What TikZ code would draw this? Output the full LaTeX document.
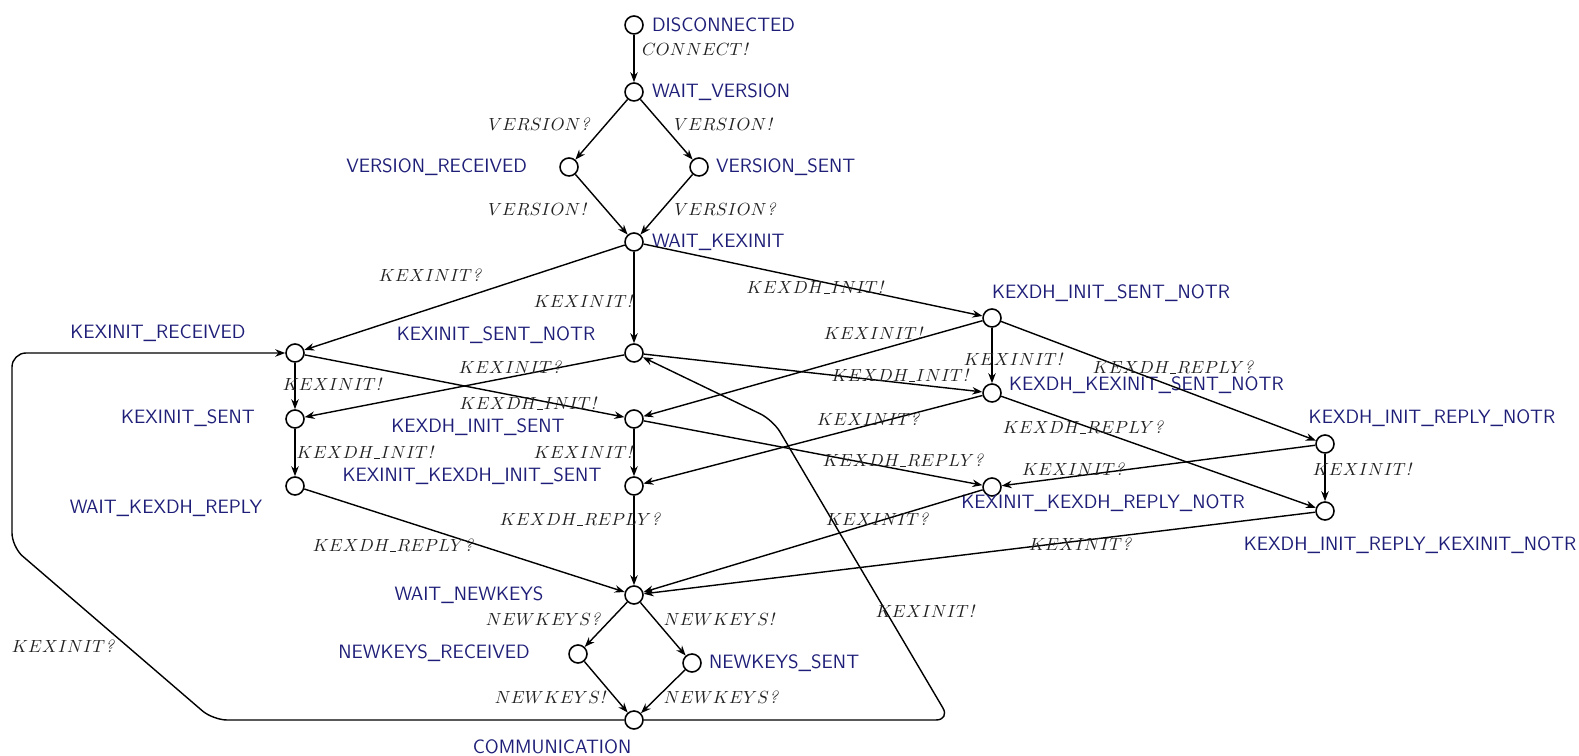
\documentclass[tikz,border=0pt]{standalone}
\usepackage{tikz}
\usetikzlibrary{arrows.meta}
\definecolor{locblue}{HTML}{1E1E78}
\definecolor{actgray}{HTML}{222222}
\newcommand{\usc}{\mbox{\kern.03em\rule{.34em}{.04em}\kern.03em}}
\newcommand{\qm}{\mbox{\itshape ?}}
\newcommand{\xm}{\mbox{\itshape !}}

\begin{document}
\begin{tikzpicture}[
    x=0.02cm, y=-0.02cm,
    st/.style={draw, circle, minimum size=0.36cm, inner sep=0pt, line width=0.9pt, fill=white},
    ar/.style={-{Stealth[length=2mm, width=1.5mm]}, line width=0.8pt},
    loc/.style={font=\sffamily\fontsize{11}{13}\selectfont, text=locblue, inner sep=1pt},
    act/.style={font=\fontsize{10}{12}\selectfont, text=actgray, inner sep=1pt}
  ]
  \useasboundingbox (0,0) rectangle (1579,756);

  % states
  \node[st] (disc) at (634,25) {};
  \node[st] (wver) at (634,92) {};
  \node[st] (vrec) at (569,167) {};
  \node[st] (vsent) at (699,167) {};
  \node[st] (wkex) at (634,242) {};
  \node[st] (krec) at (295,353) {};
  \node[st] (ksnotr) at (634,353) {};
  \node[st] (kdhnotr) at (992,318) {};
  \node[st] (ksent) at (295,419) {};
  \node[st] (kdhsent) at (634,419) {};
  \node[st] (kdhksnotr) at (992,393) {};
  \node[st] (kdhrnotr) at (1325,444) {};
  \node[st] (wkdr) at (295,486) {};
  \node[st] (kkdhs) at (634,486) {};
  \node[st] (kkrnotr) at (992,487) {};
  \node[st] (kdhrknotr) at (1325,511) {};
  \node[st] (wnew) at (634,595) {};
  \node[st] (nrec) at (578,654) {};
  \node[st] (nsent) at (692,663) {};
  \node[st] (comm) at (634,720) {};

  % state names
  \node[loc, anchor=west] (l-disc) at (650,25) {DISCONNECTED};
  \node[loc, anchor=west] (l-wver) at (650,92) {WAIT\_VERSION};
  \node[loc, anchor=east] (l-vrec) at (529,167) {VERSION\_RECEIVED};
  \node[loc, anchor=west] (l-vsent) at (714,167) {VERSION\_SENT};
  \node[loc, anchor=west] (l-wkex) at (650,242) {WAIT\_KEXINIT};
  \node[loc] (l-krec) at (158,333) {KEXINIT\_RECEIVED};
  \node[loc] (l-ksnotr) at (496,335) {KEXINIT\_SENT\_NOTR};
  \node[loc] (l-kdhnotr) at (1111,293) {KEXDH\_INIT\_SENT\_NOTR};
  \node[loc, anchor=east] (l-ksent) at (257,418) {KEXINIT\_SENT};
  \node[loc] (l-kdhsent) at (478,427) {KEXDH\_INIT\_SENT};
  \node[loc, anchor=west] (l-kdhksnotr) at (1007,385) {KEXDH\_KEXINIT\_SENT\_NOTR};
  \node[loc] (l-kdhrnotr) at (1432,418) {KEXDH\_INIT\_REPLY\_NOTR};
  \node[loc] (l-kkdhs) at (472,476) {KEXINIT\_KEXDH\_INIT\_SENT};
  \node[loc] (l-wkdr) at (166,508) {WAIT\_KEXDH\_REPLY};
  \node[loc] (l-kkrnotr) at (1103,503) {KEXINIT\_KEXDH\_REPLY\_NOTR};
  \node[loc] (l-kdhrknotr) at (1410,545) {KEXDH\_INIT\_REPLY\_KEXINIT\_NOTR};
  \node[loc] (l-wnew) at (469,595) {WAIT\_NEWKEYS};
  \node[loc] (l-nrec) at (434,653) {NEWKEYS\_RECEIVED};
  \node[loc, anchor=west] (l-nsent) at (707,663) {NEWKEYS\_SENT};
  \node[loc] (l-comm) at (552,747) {COMMUNICATION};

  % transitions
  \draw[ar] (disc) -- (wver);
  \draw[ar] (wver) -- (vrec);
  \draw[ar] (wver) -- (vsent);
  \draw[ar] (vrec) -- (wkex);
  \draw[ar] (vsent) -- (wkex);
  \draw[ar] (wkex) -- (krec);
  \draw[ar] (wkex) -- (ksnotr);
  \draw[ar] (wkex) -- (kdhnotr);
  \draw[ar] (krec) -- (ksent);
  \draw[ar] (krec) -- (kdhsent);
  \draw[ar] (ksnotr) -- (ksent);
  \draw[ar] (ksnotr) -- (kdhksnotr);
  \draw[ar] (kdhnotr) -- (kdhsent);
  \draw[ar] (kdhnotr) -- (kdhksnotr);
  \draw[ar] (kdhnotr) -- (kdhrnotr);
  \draw[ar] (ksent) -- (wkdr);
  \draw[ar] (kdhsent) -- (kkdhs);
  \draw[ar] (kdhsent) -- (kkrnotr);
  \draw[ar] (kdhksnotr) -- (kkdhs);
  \draw[ar] (kdhksnotr) -- (kdhrknotr);
  \draw[ar] (kdhrnotr) -- (kkrnotr);
  \draw[ar] (kdhrnotr) -- (kdhrknotr);
  \draw[ar] (wkdr) -- (wnew);
  \draw[ar] (kkdhs) -- (wnew);
  \draw[ar] (kkrnotr) -- (wnew);
  \draw[ar] (kdhrknotr) -- (wnew);
  \draw[ar] (wnew) -- (nrec);
  \draw[ar] (wnew) -- (nsent);
  \draw[ar] (nrec) -- (comm);
  \draw[ar] (nsent) -- (comm);
  \draw[ar, rounded corners=8pt] (comm) -- (213,720) -- (12,547) -- (12,353) -- (krec);
  \draw[ar, rounded corners=8pt] (comm) -- (950,720) -- (773,420) -- (ksnotr);

  % actions
  \node[act] (a1) at (695,49) {$CONNECT\xm$};
  \node[act] (a2) at (539,124) {$VERSION\qm$};
  \node[act] (a3) at (723,124) {$VERSION\xm$};
  \node[act] (a4) at (537,209) {$VERSION\xm$};
  \node[act] (a5) at (725,209) {$VERSION\qm$};
  \node[act] (a6) at (430,275) {$KEXINIT\qm$};
  \node[act] (a7) at (583,301) {$KEXINIT\xm$};
  \node[act] (a8) at (815,287) {$KEXDH\usc INIT\xm$};
  \node[act] (a9) at (873,333) {$KEXINIT\xm$};
  \node[act] (a10) at (1013,359) {$KEXINIT\xm$};
  \node[act] (a11) at (1173,367) {$KEXDH\usc REPLY\qm$};
  \node[act] (a12) at (510,367) {$KEXINIT\qm$};
  \node[act] (a13) at (332,384) {$KEXINIT\xm$};
  \node[act] (a14) at (900,375) {$KEXDH\usc INIT\xm$};
  \node[act] (a15) at (528,403) {$KEXDH\usc INIT\xm$};
  \node[act] (a16) at (868,419) {$KEXINIT\qm$};
  \node[act] (a17) at (1083,427) {$KEXDH\usc REPLY\qm$};
  \node[act] (a18) at (365,452) {$KEXDH\usc INIT\xm$};
  \node[act] (a19) at (583,452) {$KEXINIT\xm$};
  \node[act] (a20) at (903,460) {$KEXDH\usc REPLY\qm$};
  \node[act] (a21) at (1073,469) {$KEXINIT\qm$};
  \node[act] (a22) at (1362,469) {$KEXINIT\xm$};
  \node[act] (a23) at (580,519) {$KEXDH\usc REPLY\qm$};
  \node[act] (a24) at (393,545) {$KEXDH\usc REPLY\qm$};
  \node[act] (a25) at (877,519) {$KEXINIT\qm$};
  \node[act] (a26) at (1080,544) {$KEXINIT\qm$};
  \node[act] (a27) at (925,611) {$KEXINIT\xm$};
  \node[act] (a28) at (63,646) {$KEXINIT\qm$};
  \node[act] (a29) at (543,619) {$NEWKEYS\qm$};
  \node[act] (a30) at (719,619) {$NEWKEYS\xm$};
  \node[act] (a31) at (550,697) {$NEWKEYS\xm$};
  \node[act] (a32) at (721,697) {$NEWKEYS\qm$};
\end{tikzpicture}
\end{document}
